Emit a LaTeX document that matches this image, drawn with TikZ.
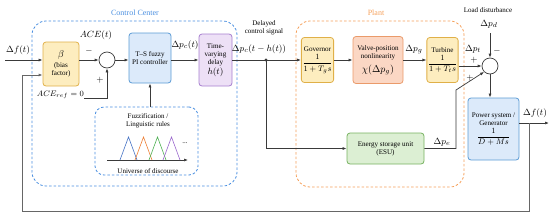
\documentclass[tikz,border=0pt]{standalone}
\usepackage{amsmath}
\usepackage{fontspec}
\setmainfont{Liberation Serif}
\usepackage{tikz}
\usetikzlibrary{arrows.meta,positioning}
\definecolor{CtrlBlue}{HTML}{4A8FE0}
\definecolor{PlantOrange}{HTML}{F5A05A}
\definecolor{Wire}{HTML}{3A3A3A}
\definecolor{FbGray}{HTML}{666666}
\definecolor{GoldLine}{HTML}{E0B048}
\definecolor{GoldFill}{HTML}{FDEDBF}
\definecolor{SkyLine}{HTML}{5B9BD5}
\definecolor{SkyFill}{HTML}{DCEAFA}
\definecolor{LilacLine}{HTML}{A77FCF}
\definecolor{LilacFill}{HTML}{EDE0F6}
\definecolor{SalmonLine}{HTML}{EA9A6A}
\definecolor{SalmonFill}{HTML}{FBD7C4}
\definecolor{LeafLine}{HTML}{76B260}
\definecolor{LeafFill}{HTML}{DCEFD3}
\definecolor{TriBlue}{HTML}{4472C4}
\definecolor{TriOrange}{HTML}{ED7D31}
\definecolor{TriGreen}{HTML}{4CAF50}
\definecolor{TriPurple}{HTML}{9966CC}
\newcommand{\tfbig}{\fontsize{8.5}{9.5}\selectfont}

\begin{document}
\begin{tikzpicture}[x=1pt,y=-1pt,>={Latex[length=4pt,width=3pt]},
  blk/.style={rounded corners=3pt,line width=0.8pt,align=center,inner sep=1pt,
              font=\fontsize{7.1}{8}\selectfont},
  lbl/.style={font=\fontsize{9.5}{10}\selectfont,inner sep=0pt},
  note/.style={font=\fontsize{7}{8}\selectfont,inner sep=0pt,align=center},
  sum/.style={circle,draw=Wire,line width=0.7pt,minimum size=16pt,inner sep=0pt},
  wire/.style={->,line width=0.7pt,draw=Wire}]
  \useasboundingbox (0,0) rectangle (550,220);

  % frames
  \draw[CtrlBlue,line width=0.8pt,dash pattern=on 2.5pt off 2pt,rounded corners=14pt]
        (32,21) rectangle (237,186);
  \node[text=CtrlBlue,font=\fontsize{8}{9}\selectfont] (cclbl) at (135,13) {Control Center};
  \draw[PlantOrange,line width=0.8pt,dash pattern=on 2.5pt off 2pt,rounded corners=14pt]
        (296,21) rectangle (464,187);
  \node[text=PlantOrange,font=\fontsize{8}{9}\selectfont] (plbl) at (376,13) {Plant};

  % blocks
  \node[blk,draw=GoldLine,fill=GoldFill,minimum width=36pt,minimum height=44pt] (beta) at (61,64)
        {{\fontsize{10}{11}\selectfont$\beta$}\\[2pt](bias\\factor)};
  \node[sum] (sum1) at (107,60) {};
  \node[blk,draw=SkyLine,fill=SkyFill,minimum width=42pt,minimum height=50pt] (ctrl) at (150,58)
        {T--S fuzzy\\PI controller};
  \node[blk,draw=LilacLine,fill=LilacFill,minimum width=33pt,minimum height=52pt] (delay) at (215.5,60)
        {Time-\\varying\\delay\\[1pt]{\fontsize{9.5}{10}\selectfont$h(t)$}};
  \node[blk,draw=CtrlBlue,dash pattern=on 2.5pt off 2pt,rounded corners=9pt,
        minimum width=103pt,minimum height=68pt] (fuzz) at (146.5,141) {};
  \node[note] (fuzztxt) at (148,121) {Fuzzification /\\Linguistic rules};
  \node[note] (univ) at (148,171) {Universe of discourse};

  \node[blk,draw=GoldLine,fill=GoldFill,minimum width=31pt,minimum height=45pt] (gov) at (317.5,60)
        {Governor\\[2pt]{\tfbig$\dfrac{1}{1+T_g s}$}};
  \node[blk,draw=SalmonLine,fill=SalmonFill,minimum width=50pt,minimum height=47pt] (valve) at (378,60)
        {Valve-position\\nonlinearity\\[4pt]{\fontsize{10}{11}\selectfont$\chi(\Delta p_g)$}};
  \node[blk,draw=GoldLine,fill=GoldFill,minimum width=31pt,minimum height=45pt] (turb) at (442.5,60)
        {Turbine\\[2pt]{\tfbig$\dfrac{1}{1+T_t s}$}};
  \node[sum] (sum2) at (490,66) {};
  \node[blk,draw=SkyLine,fill=SkyFill,minimum width=51pt,minimum height=62pt] (power) at (493.5,129)
        {Power system /\\Generator\\[2pt]{\tfbig$\dfrac{1}{D+Ms}$}};
  \node[blk,draw=LeafLine,fill=LeafFill,minimum width=77pt,minimum height=31pt] (esu) at (385.5,148.5)
        {Energy storage unit\\(ESU)};

  % membership functions
  \draw[->,Wire,line width=0.6pt] (107,160) -- (188,160);
  \foreach \xa/\col in {120/TriBlue,135/TriOrange,149/TriGreen,163/TriPurple}
    \draw[\col,line width=0.6pt] (\xa,160) -- ++(8.5,-23) -- ++(8.5,23);
  \node[note] (dots) at (185,143) {...};

  % free ends
  \coordinate (in) at (5,60);
  \coordinate (ref) at (84,98);
  \coordinate (jn) at (266,60);
  \coordinate (dist) at (490,33);
  \coordinate (bend) at (456,90);
  \coordinate (out) at (549,123);
  \coordinate (fb) at (529,123);
  \coordinate (fbc) at (22,211);

  % connectors
  \draw[wire] (in) -- (in -| beta.west);
  \draw[wire] (beta.east |- sum1) -- (sum1.west);
  \draw[wire] (ref) -| (sum1.south);
  \draw[wire] (sum1.east) -- (sum1.east -| ctrl.west);
  \draw[wire] (fuzz.north -| ctrl) -- (ctrl.south);
  \draw[wire] (ctrl.east |- delay) -- (delay.west);
  \draw[wire] (delay.east) -- (gov.west);
  \fill[Wire] (jn) circle (1.7pt);
  \draw[wire] (jn) |- (esu.west);
  \draw[wire] (gov.east) -- (valve.west);
  \draw[wire] (valve.east) -- (turb.west);
  \draw[wire] (turb.east |- sum2) -- (sum2.west);
  \draw[wire] (dist) -- (sum2.north);
  \draw[wire] (esu.east) -| (bend) -- (sum2.south west);
  \draw[wire] (sum2.south) -- (sum2.south |- power.north);
  \draw[wire] (power.east |- out) -- (out);
  \draw[->,FbGray,line width=0.9pt] (fb) |- (fbc) |- ([yshift=-11pt]beta.west);

  % labels
  \node[lbl] (lfin) at (18,50) {$\Delta f(t)$};
  \node[lbl] (lace) at (96,35) {$ACE(t)$};
  \node[lbl] (lm1) at (89,51) {$-$};
  \node[lbl] (lp1) at (100,80) {$+$};
  \node[lbl,anchor=east,font=\fontsize{8.5}{9}\selectfont] (lref) at ([yshift=3pt]ref) {$ACE_{ref}=0$};
  \node[lbl] (lpc) at (185,45) {$\Delta p_c(t)$};
  \node[note] (ldel) at (264,28) {Delayed\\control signal};
  \node[lbl] (lpch) at (259,49) {$\Delta p_c(t-h(t))$};
  \node[lbl] (lpg) at (414,50) {$\Delta p_g$};
  \node[lbl] (lpt) at (473,49) {$\Delta p_t$};
  \node[lbl] (lp2) at (474,60) {$+$};
  \node[lbl] (lm2) at (497,51) {$-$};
  \node[lbl] (lp3) at (470,78) {$+$};
  \node[note] (lload) at (488,10) {Load disturbance};
  \node[lbl] (lpd) at (489,24) {$\Delta p_d$};
  \node[lbl] (lpe) at (442,142) {$\Delta p_e$};
  \node[lbl] (lfout) at (535,113) {$\Delta f(t)$};
\end{tikzpicture}
\end{document}
